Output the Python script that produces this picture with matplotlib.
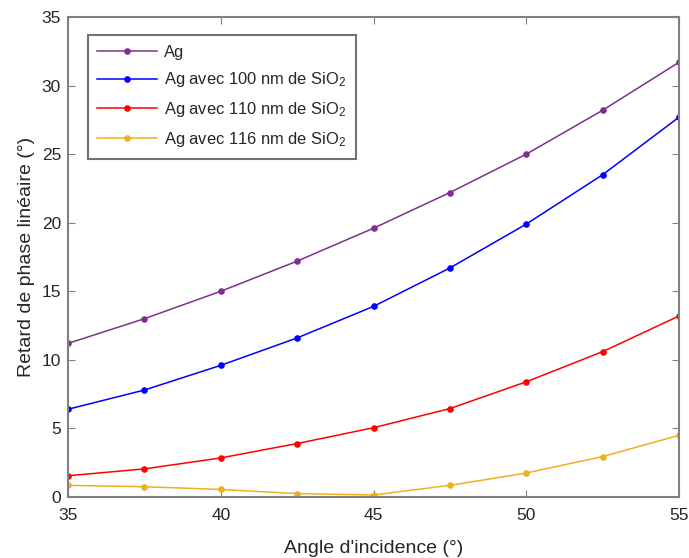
import matplotlib
matplotlib.use("Agg")
import matplotlib.pyplot as plt

angles = [35, 37.5, 40, 42.5, 45, 47.5, 50, 52.5, 55]
ag = [11.2, 13.0, 15.0, 17.2, 19.6, 22.2, 25.0, 28.2, 31.7]
ag_100 = [6.4, 7.8, 9.6, 11.6, 13.9, 16.7, 19.9, 23.5, 27.7]
ag_110 = [1.55, 2.05, 2.85, 3.9, 5.05, 6.45, 8.4, 10.6, 13.2]
ag_116 = [0.85, 0.75, 0.55, 0.25, 0.15, 0.85, 1.75, 2.95, 4.5]
labels = ["Ag", "Ag avec 100 nm de SiO$_2$", "Ag avec 110 nm de SiO$_2$", "Ag avec 116 nm de SiO$_2$"]
colors = ["#7E2F8E", "#0000FF", "#FF0000", "#EDB120"]
xticks = [35, 40, 45, 50, 55]
yticks = [0, 5, 10, 15, 20, 25, 30, 35]

plt.rcParams['font.family'] = ['Liberation Sans', 'DejaVu Sans']
plt.rcParams['mathtext.fontset'] = 'custom'
plt.rcParams['mathtext.rm'] = 'Liberation Sans'
plt.rcParams['mathtext.it'] = 'Liberation Sans'

fig = plt.figure(figsize=(6.89, 5.58), dpi=100)
ax = fig.add_axes([0.0987, 0.1093, 0.8868, 0.8602])

for y, lab, c in zip([ag, ag_100, ag_110, ag_116], labels, colors):
    ax.plot(angles, y, color=c, marker='.', markersize=7.5, linewidth=1.1, label=lab)

ax.set_xlim(35, 55)
ax.set_ylim(0, 35)
ax.set_xticks(xticks)
ax.set_yticks(yticks)
gray = '#262626'
ax.tick_params(direction='in', top=True, right=True, labelsize=12.5, labelcolor=gray,
               color='#808080', length=5, width=0.8)
ax.tick_params(axis='x', pad=8)
ax.tick_params(axis='y', pad=5)
for s in ax.spines.values():
    s.set_color('#808080')
    s.set_linewidth(1.5)
ax.set_xlabel("Angle d'incidence (°)", fontsize=14, color=gray, labelpad=12)
ax.set_ylabel("Retard de phase linéaire (°)", fontsize=14, color=gray, labelpad=5)

leg = ax.legend(loc='upper left', bbox_to_anchor=(0.032, 0.963), fontsize=11.9,
                frameon=True, fancybox=False, handlelength=3.6, borderpad=0.6,
                labelspacing=0.65, handletextpad=0.4, borderaxespad=0)
leg.get_frame().set_edgecolor('#505050')
leg.get_frame().set_linewidth(1.5)
for t in leg.get_texts():
    t.set_color(gray)

fig.savefig("out.png", dpi=100)
